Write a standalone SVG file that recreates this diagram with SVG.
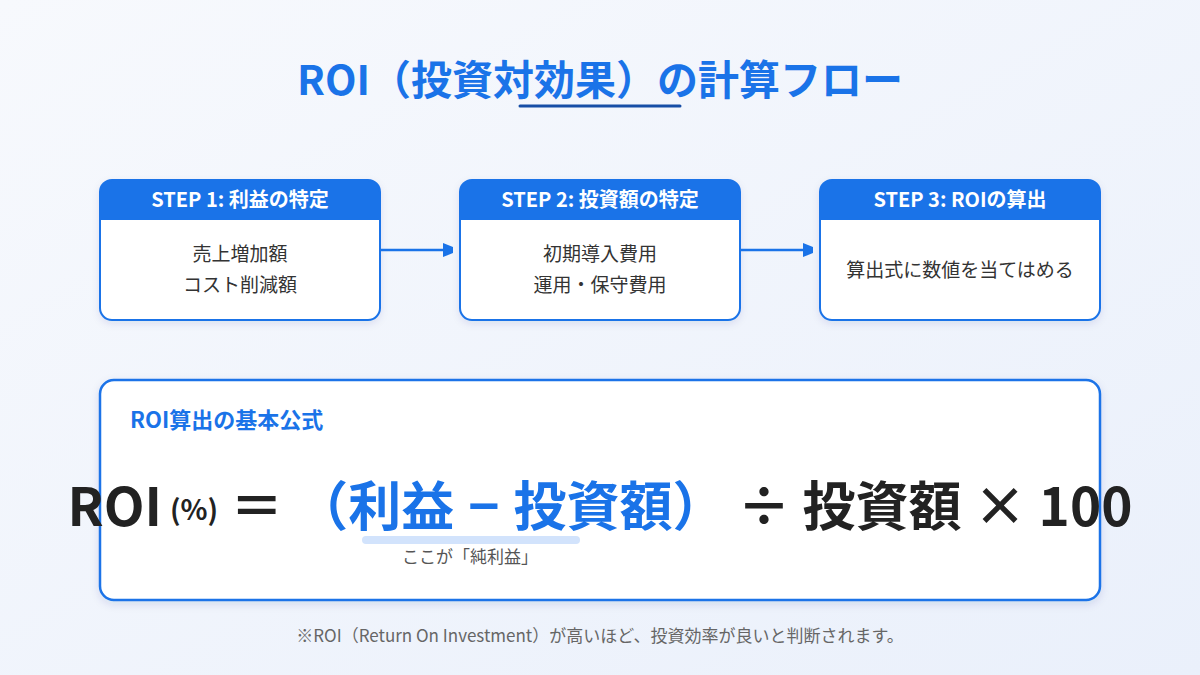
<svg xmlns="http://www.w3.org/2000/svg" width="1200" height="675" viewBox="0 0 1200 675">
<defs>
<linearGradient id="bg" x1="0" y1="0" x2="1" y2="1"><stop offset="0" stop-color="#f7f9fd"/><stop offset="1" stop-color="#eaf0fb"/></linearGradient>
<marker id="ah" markerWidth="10" markerHeight="14" refX="9" refY="7" orient="auto" markerUnits="userSpaceOnUse"><path d="M0,0 L18,7 L0,14z" fill="#1a73e8"/></marker>
<filter id="sh" x="-10%" y="-10%" width="120%" height="130%"><feDropShadow dx="0" dy="3" stdDeviation="4" flood-color="#1a3a80" flood-opacity="0.12"/></filter>
<clipPath id="c1"><rect x="100" y="180" width="280" height="140" rx="12"/></clipPath>
<clipPath id="c2"><rect x="460" y="180" width="280" height="140" rx="12"/></clipPath>
<clipPath id="c3"><rect x="820" y="180" width="280" height="140" rx="12"/></clipPath>
</defs>
<style>
text{font-family:"Noto Sans CJK JP","Noto Sans",sans-serif}
.bg{fill:#fff}
.box{fill:none;stroke:#1a73e8;stroke-width:2}
.hd{fill:#1a73e8}
.ht{fill:#fff;font-size:20px;font-weight:700;text-anchor:middle}
.bt{fill:#333;font-size:19px;text-anchor:middle}
.con{stroke:#1a73e8;stroke-width:2.5;fill:none;marker-end:url(#ah)}
</style>
<rect width="1200" height="675" fill="url(#bg)"/>
<text x="600" y="95" text-anchor="middle" font-size="41" font-weight="700" fill="#1a73e8">ROI（投資対効果）の計算フロー</text>
<line x1="520" y1="106" x2="680" y2="106" stroke="#174ea6" stroke-width="3" stroke-linecap="round"/>
<g id="step1">
<rect x="100" y="180" width="280" height="140" rx="12" class="bg" filter="url(#sh)"/>
<rect x="100" y="180" width="280" height="40" class="hd" clip-path="url(#c1)"/>
<rect x="100" y="180" width="280" height="140" rx="12" class="box"/>
<text x="240" y="207" class="ht">STEP 1: 利益の特定</text>
<text x="240" y="261" class="bt">売上増加額</text>
<text x="240" y="292" class="bt">コスト削減額</text>
</g>
<g id="step2">
<rect x="460" y="180" width="280" height="140" rx="12" class="bg" filter="url(#sh)"/>
<rect x="460" y="180" width="280" height="40" class="hd" clip-path="url(#c2)"/>
<rect x="460" y="180" width="280" height="140" rx="12" class="box"/>
<text x="600" y="207" class="ht">STEP 2: 投資額の特定</text>
<text x="600" y="261" class="bt">初期導入費用</text>
<text x="600" y="292" class="bt">運用・保守費用</text>
</g>
<g id="step3">
<rect x="820" y="180" width="280" height="140" rx="12" class="bg" filter="url(#sh)"/>
<rect x="820" y="180" width="280" height="40" class="hd" clip-path="url(#c3)"/>
<rect x="820" y="180" width="280" height="140" rx="12" class="box"/>
<text x="960" y="207" class="ht">STEP 3: ROIの算出</text>
<text x="960" y="277" class="bt">算出式に数値を当てはめる</text>
</g>
<g id="connectors">
<line x1="381" y1="250" x2="452" y2="250" class="con"/>
<line x1="741" y1="250" x2="812" y2="250" class="con"/>
</g>
<g id="formula">
<rect x="100" y="380" width="1000" height="220" rx="14" fill="#fff" stroke="#1a73e8" stroke-width="2.5" filter="url(#sh)"/>
<text x="130" y="428" font-size="22" font-weight="700" fill="#1a73e8">ROI算出の基本公式</text>
<rect x="362" y="536" width="218" height="8" rx="4" fill="#d2e3fc"/>
<text x="600" y="526" text-anchor="middle" font-size="53" font-weight="700" fill="#222"><tspan>ROI</tspan><tspan font-size="28" dx="8" dy="-6">(%)</tspan><tspan dy="6"> ＝ </tspan><tspan fill="#1a73e8">（利益</tspan><tspan fill="#1a73e8" dx="14">−</tspan><tspan fill="#1a73e8" dx="14">投資額）</tspan><tspan> ÷ 投資額 × 100</tspan></text>
<text x="470" y="563" text-anchor="middle" font-size="17" fill="#555">ここが「純利益」</text>
</g>
<text x="600" y="642" text-anchor="middle" font-size="17" fill="#666">※ROI（Return On Investment）が高いほど、投資効率が良いと判断されます。</text>
</svg>
